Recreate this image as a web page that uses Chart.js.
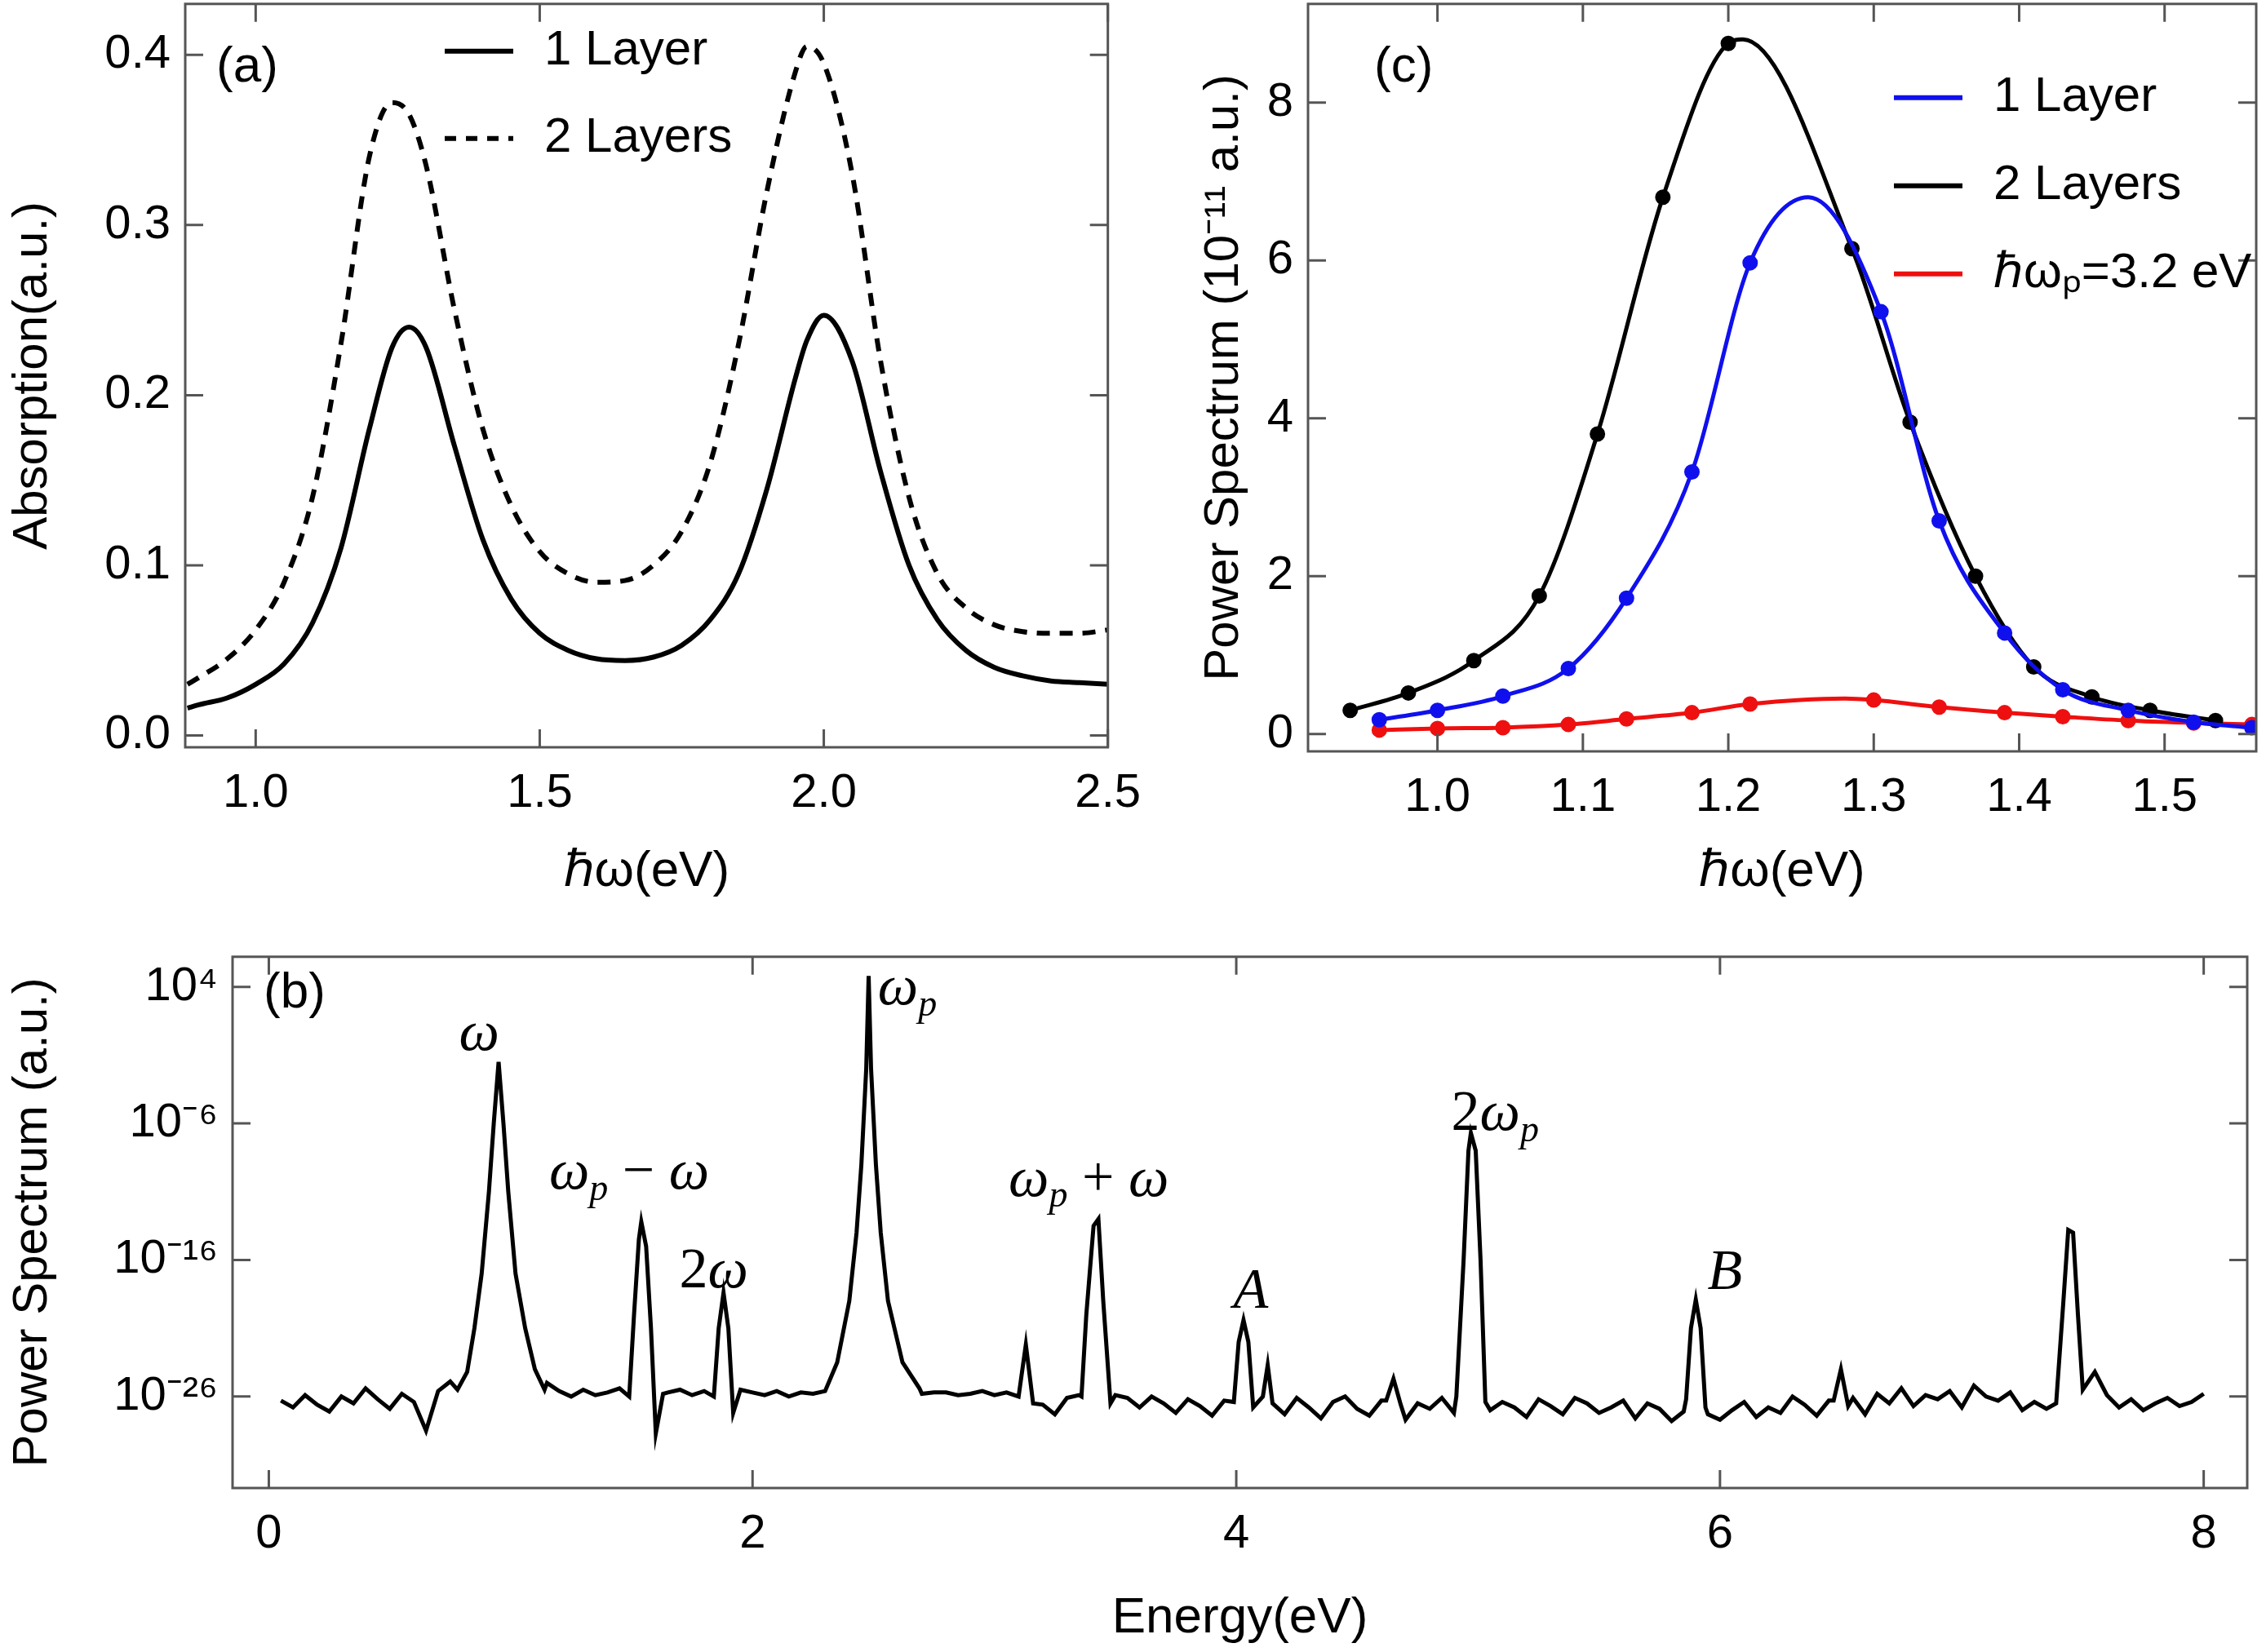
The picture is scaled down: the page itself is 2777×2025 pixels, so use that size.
<!DOCTYPE html>
<html><head><meta charset="utf-8">
<script src="https://cdn.jsdelivr.net/npm/chart.js@4/dist/chart.umd.min.js"></script>
<style>
body{margin:0;background:#fff;width:2777px;height:2025px;position:relative;overflow:hidden}
.box{position:absolute}
</style></head><body>
<div class="box" style="left:0;top:-48px;width:1420px;height:1158px"><canvas id="ca"></canvas></div>
<div class="box" style="left:1460px;top:-48px;width:1317px;height:1158px"><canvas id="cc"></canvas></div>
<div class="box" style="left:0;top:1120px;width:2777px;height:905px"><canvas id="cb"></canvas></div>
<script>
// (a) absorption
var absEnergy = [0.88,0.9,0.95,1.0,1.05,1.1,1.15,1.2,1.24,1.27,1.3,1.35,1.4,1.45,1.5,1.55,1.6,1.65,1.7,1.75,1.8,1.85,1.9,1.95,1.97,2.0,2.05,2.1,2.15,2.2,2.25,2.3,2.35,2.4,2.45,2.5];
var abs1Layer = [0.016,0.018,0.022,0.03,0.042,0.066,0.11,0.18,0.228,0.24,0.228,0.17,0.115,0.08,0.06,0.05,0.045,0.044,0.046,0.053,0.068,0.095,0.145,0.21,0.232,0.247,0.22,0.155,0.1,0.068,0.05,0.04,0.035,0.032,0.031,0.03];
var abs2Layers = [0.03,0.034,0.045,0.062,0.09,0.14,0.23,0.34,0.372,0.365,0.335,0.25,0.18,0.135,0.108,0.095,0.09,0.091,0.1,0.12,0.16,0.23,0.32,0.39,0.405,0.395,0.33,0.22,0.14,0.095,0.075,0.065,0.061,0.06,0.06,0.062];

// (c) power spectrum, 10^-11 a.u.
var pw2Energy = [0.94,0.98,1.025,1.07,1.11,1.155,1.2,1.21,1.285,1.325,1.37,1.41,1.45,1.49,1.535];
var pw2Value  = [0.3,0.52,0.93,1.75,3.8,6.8,8.75,8.8,6.15,3.95,2.0,0.85,0.47,0.3,0.17];
var pw2Marked = [1,1,1,1,1,1,1,0,1,1,1,1,1,1,1];
var pw1Energy = [0.96,1.0,1.045,1.09,1.13,1.175,1.215,1.255,1.305,1.345,1.39,1.43,1.475,1.52,1.56];
var pw1Value  = [0.18,0.3,0.48,0.83,1.72,3.32,5.97,6.8,5.35,2.7,1.28,0.56,0.3,0.15,0.08];
var pw1Marked = [1,1,1,1,1,1,1,0,1,1,1,1,1,1,1];
var pwREnergy = [0.96,1.0,1.045,1.09,1.13,1.175,1.215,1.28,1.3,1.345,1.39,1.43,1.475,1.52,1.56];
var pwRValue  = [0.05,0.07,0.08,0.12,0.19,0.27,0.38,0.45,0.43,0.34,0.27,0.22,0.17,0.14,0.12];
var pwRMarked = [1,1,1,1,1,1,1,0,1,1,1,1,1,1,1];

// (b) log10 of spectrum: noisy floor sampled every 0.05 eV from 0.05 eV, plus peaks
var floorExp = [
-26.3,-26.8,-25.9,-26.6,-27.1,-26.0,-26.5,-25.4,-26.2,-26.9,-25.8,-26.4,-28.5,-25.6,-24.9,-24.2,-25,-25,-25,-25,
-25,-25,-25,-25.6,-26.0,-25.5,-25.9,-25.7,-25.4,-25.8,-25.6,-26.1,-25.7,-25.5,-25.9,-25.6,-25.7,-25.8,-25.5,-25.7,
-25.9,-25.6,-26.0,-25.7,-25.8,-25.6,-25.9,-25.7,-25.5,-25.8,-25.7,-25.9,-25.6,-25.8,-25.7,-25.7,-25.9,-25.8,-25.6,-25.9,
-25.7,-26.3,-25.8,-26.6,-27.3,-26.1,-25.9,-26.2,-26.4,-25.9,-26.1,-26.8,-26.0,-26.5,-27.2,-26.2,-26.7,-27.4,-26.3,-26.6,
-27.5,-26.2,-26.9,-27.3,-26.1,-26.8,-27.6,-26.4,-26.0,-26.9,-27.4,-26.3,-26.8,-27.7,-26.5,-26.9,-26.1,-27.2,-26.6,-26.3,
-27.0,-26.4,-26.8,-27.5,-26.2,-26.7,-27.3,-26.1,-26.5,-27.2,-26.8,-26.3,-27.6,-26.5,-26.9,-27.8,-27.1,-26.6,-27.3,-27.7,
-27.0,-26.4,-27.5,-26.8,-27.2,-26.0,-26.6,-27.4,-26.3,-26.9,-26.1,-27.3,-25.8,-26.5,-25.4,-26.7,-25.9,-26.2,-25.6,-26.8,
-25.2,-26.0,-26.3,-25.7,-27.0,-26.4,-26.9,-27.6,-26.5,-27.1,-26.3,-27.4,-26.8,-26.2,-27.0,-26.5,-26.1,-26.7,-26.4,-25.8];
var peakOmega   = [[0.78,-25.5],[0.82,-24.2],[0.85,-21],[0.88,-17],[0.91,-11],[0.93,-6],[0.95,-1.5],[0.97,-6],[0.99,-11],[1.02,-17],[1.06,-21],[1.1,-24],[1.14,-25.5]];
var peakWpMinus = [[1.49,-26],[1.51,-20],[1.53,-14.5],[1.54,-13.2],[1.56,-15],[1.58,-21],[1.6,-28.7],[1.63,-25.8]];
var peak2Omega  = [[1.84,-26],[1.86,-21],[1.88,-18.4],[1.9,-21],[1.92,-27.2]];
var peakWp      = [[2.3,-25.6],[2.35,-23.5],[2.4,-19],[2.43,-14],[2.45,-9],[2.47,-2],[2.48,4.8],[2.49,-2],[2.51,-9],[2.53,-14],[2.56,-19],[2.62,-23.5],[2.69,-25.4]];
var peakSmall1  = [[3.1,-26],[3.13,-22.2],[3.16,-26.5]];
var peakWpPlus  = [[3.36,-26],[3.38,-20],[3.41,-13.5],[3.43,-13],[3.45,-19],[3.48,-26.5]];
var peakA       = [[3.99,-26.4],[4.01,-22],[4.03,-20.4],[4.05,-22],[4.07,-26.8],[4.11,-26],[4.13,-23.7],[4.15,-26.5]];
var peakSmall2  = [[4.62,-26.3],[4.65,-24.7],[4.68,-26.6]];
var peak2Wp     = [[4.91,-26],[4.94,-16],[4.96,-8],[4.97,-6.7],[4.99,-8],[5.01,-16],[5.03,-26.4]];
var peakB       = [[5.86,-26.2],[5.88,-21],[5.9,-18.9],[5.92,-21],[5.94,-26.8]];
var peakSmall3  = [[6.47,-26.3],[6.5,-24],[6.53,-26.7]];
var peakLast    = [[7.39,-26.5],[7.42,-19],[7.44,-13.8],[7.46,-14],[7.48,-20],[7.5,-25.5],[7.55,-24.2],[7.6,-25.9]];
var logTicks = [-26,-16,-6,4];

var FONT = '"Liberation Sans", Arial, sans-serif';
var SERIF = '"Liberation Serif", "DejaVu Serif", serif';
var FRAME = '#555';

function framePlugin(id, opts) {
  return {
    id: id,
    afterDraw: function(chart) {
      var c = chart.ctx, a = chart.chartArea;
      c.save();
      c.strokeStyle = FRAME; c.lineWidth = 3;
      c.strokeRect(a.left, a.top, a.right - a.left, a.bottom - a.top);
      // inward ticks
      var xs = chart.scales.x, ys = chart.scales.y;
      xs.ticks.forEach(function(t) {
        var p = xs.getPixelForValue(t.value);
        c.beginPath(); c.moveTo(p, a.bottom); c.lineTo(p, a.bottom - 22);
        c.moveTo(p, a.top); c.lineTo(p, a.top + 22); c.stroke();
      });
      ys.ticks.forEach(function(t) {
        var p = ys.getPixelForValue(t.value);
        c.beginPath(); c.moveTo(a.left, p); c.lineTo(a.left + 22, p);
        c.moveTo(a.right, p); c.lineTo(a.right - 22, p); c.stroke();
      });
      c.fillStyle = '#000'; c.font = '62px ' + FONT; c.textBaseline = 'middle'; c.textAlign = 'left';
      c.fillText(opts.label, a.left + opts.lx, a.top + opts.ly);
      if (opts.legend) {
        opts.legend.forEach(function(it, i) {
          var y = a.top + opts.legend.y0 + i * opts.legend.dy;
          var x = a.left + opts.legend.x0;
          c.strokeStyle = it.color; c.lineWidth = 6; c.setLineDash(it.dash || []);
          c.beginPath(); c.moveTo(x, y); c.lineTo(x + 84, y); c.stroke();
          c.setLineDash([]);
          c.fillStyle = '#000'; c.font = '60px ' + FONT;
          c.fillText(it.text, x + 122, y);
        });
      }
      c.restore();
    }
  };
}

function pts(xs, ys) { return xs.map(function(x, i) { return {x: x, y: ys[i]}; }); }

function axes(xmin, xmax, xt, ymin, ymax, yt, yw, xh, xtitle, ytitle, yType, yCb, xCb) {
  return {
    x: {type: 'linear', min: xmin, max: xmax,
        afterBuildTicks: function(s) { s.ticks = xt.map(function(v) { return {value: v}; }); },
        afterFit: function(s) { s.height = xh; },
        grid: {display: false, drawTicks: false}, border: {display: false},
        ticks: {color: '#000', font: {size: 58, family: FONT}, padding: 22, maxRotation: 0, callback: xCb},
        title: {display: true, text: xtitle, color: '#000', font: {size: 62, family: FONT}, padding: {top: 14}}},
    y: {type: yType || 'linear', min: ymin, max: ymax,
        afterBuildTicks: function(s) { s.ticks = yt.map(function(v) { return {value: v}; }); },
        afterFit: function(s) { s.width = yw; },
        grid: {display: false, drawTicks: false}, border: {display: false},
        ticks: {color: '#000', font: {size: 58, family: FONT}, padding: 18, callback: yCb},
        title: {display: true, text: ytitle, color: '#000', font: {size: 60, family: FONT}, padding: {bottom: 4}}}
  };
}

var fx1 = function(v) { return v.toFixed(1); };

// (a)
new Chart(document.getElementById('ca'), {
  type: 'line',
  data: {datasets: [
    {data: pts(absEnergy, abs1Layer), borderColor: '#000', borderWidth: 6, pointRadius: 0, cubicInterpolationMode: 'monotone'},
    {data: pts(absEnergy, abs2Layers), borderColor: '#000', borderWidth: 6, borderDash: [16, 12], pointRadius: 0, cubicInterpolationMode: 'monotone'}
  ]},
  options: {responsive: true, maintainAspectRatio: false, animation: false,
    layout: {padding: {right: 54, top: 0}},
    plugins: {legend: {display: false}, tooltip: {enabled: false}},
    scales: axes(0.876, 2.5, [1.0, 1.5, 2.0, 2.5], -0.007, 0.43, [0, 0.1, 0.2, 0.3, 0.4], 227, 194,
      'ℏω(eV)', 'Absorption(a.u.)', 'linear', fx1, fx1)},
  plugins: [framePlugin('fa', {label: '(a)', lx: 38, ly: 78,
    legend: Object.assign([{text: '1 Layer', color: '#000'}, {text: '2 Layers', color: '#000', dash: [14, 12]}], {x0: 318, y0: 58, dy: 107})})]
});

// (c)
function markRadius(m) { return m.map(function(v) { return v ? 7 : 0; }); }
new Chart(document.getElementById('cc'), {
  type: 'line',
  data: {datasets: [
    {data: pts(pw1Energy, pw1Value), borderColor: '#1010ee', backgroundColor: '#1010ee', borderWidth: 5, pointRadius: markRadius(pw1Marked), cubicInterpolationMode: 'monotone'},
    {data: pts(pw2Energy, pw2Value), borderColor: '#000', backgroundColor: '#000', borderWidth: 5, pointRadius: markRadius(pw2Marked), cubicInterpolationMode: 'monotone'},
    {data: pts(pwREnergy, pwRValue), borderColor: '#ee1010', backgroundColor: '#ee1010', borderWidth: 5, pointRadius: markRadius(pwRMarked), cubicInterpolationMode: 'monotone'}
  ]},
  options: {responsive: true, maintainAspectRatio: false, animation: false,
    layout: {padding: {right: 11, top: 0}},
    plugins: {legend: {display: false}, tooltip: {enabled: false}},
    scales: axes(0.911, 1.563, [1.0, 1.1, 1.2, 1.3, 1.4, 1.5], -0.22, 9.25, [0, 2, 4, 6, 8], 143, 189,
      'ℏω(eV)', 'Power Spectrum (10⁻¹¹ a.u.)', 'linear', function(v) { return v; }, fx1)},
  plugins: [framePlugin('fc', {label: '(c)', lx: 81, ly: 78,
    legend: Object.assign([{text: '1 Layer', color: '#1010ee'}, {text: '2 Layers', color: '#000'}, {text: 'ℏωₚ=3.2 eV', color: '#ee1010'}], {x0: 718, y0: 115, dy: 108})})]
});

// (b)
var peaks = [peakOmega, peakWpMinus, peak2Omega, peakWp, peakSmall1, peakWpPlus, peakA, peakSmall2, peak2Wp, peakB, peakSmall3, peakLast];
var spec = [];
floorExp.forEach(function(e, i) {
  var x = +(0.05 * (i + 1)).toFixed(2);
  var inside = peaks.some(function(p) { return x >= p[0][0] && x <= p[p.length - 1][0]; });
  if (!inside) spec.push({x: x, y: Math.pow(10, e)});
});
peaks.forEach(function(p) { p.forEach(function(q) { spec.push({x: q[0], y: Math.pow(10, q[1])}); }); });
spec.sort(function(a, b) { return a.x - b.x; });

var supMap = {'-': '⁻', '0': '⁰', '1': '¹', '2': '²', '3': '³', '4': '⁴', '5': '⁵', '6': '⁶', '7': '⁷', '8': '⁸', '9': '⁹'};
function logLabel(v) {
  var e = Math.round(Math.log10(v));
  return '10' + String(e).split('').map(function(ch) { return supMap[ch]; }).join('');
}

var peakLabels = [
  {x: 0.87, e: 0.5, parts: [['ω', 'i']]},
  {x: 1.49, e: -9.7, parts: [['ω', 'i'], ['p', 's'], [' − ', 'n'], ['ω', 'i']]},
  {x: 1.84, e: -16.9, parts: [['2', 'n'], ['ω', 'i']]},
  {x: 2.64, e: 3.8, parts: [['ω', 'i'], ['p', 's']]},
  {x: 3.39, e: -10.2, parts: [['ω', 'i'], ['p', 's'], [' + ', 'n'], ['ω', 'i']]},
  {x: 4.06, e: -18.4, parts: [['A', 'i']]},
  {x: 5.07, e: -5.4, parts: [['2', 'n'], ['ω', 'i'], ['p', 's']]},
  {x: 6.02, e: -17, parts: [['B', 'i']]}
];
var labelPlugin = {
  id: 'peaklabels',
  afterDraw: function(chart) {
    var c = chart.ctx, xs = chart.scales.x, ys = chart.scales.y;
    c.save(); c.fillStyle = '#000'; c.textBaseline = 'middle'; c.textAlign = 'left';
    function fontFor(k) { return k === 's' ? 'italic 46px ' + SERIF : (k === 'i' ? 'italic 70px ' + SERIF : '70px ' + SERIF); }
    peakLabels.forEach(function(l) {
      var w = 0;
      l.parts.forEach(function(p) { c.font = fontFor(p[1]); w += c.measureText(p[0]).width; });
      var x = xs.getPixelForValue(l.x) - w / 2, y = ys.getPixelForValue(Math.pow(10, l.e));
      l.parts.forEach(function(p) {
        c.font = fontFor(p[1]);
        c.fillText(p[0], x, p[1] === 's' ? y + 20 : y);
        x += c.measureText(p[0]).width;
      });
    });
    c.restore();
  }
};

new Chart(document.getElementById('cb'), {
  type: 'line',
  data: {datasets: [{data: spec, borderColor: '#000', borderWidth: 5, pointRadius: 0, tension: 0}]},
  options: {responsive: true, maintainAspectRatio: false, animation: false,
    layout: {padding: {right: 23, top: 13}},
    plugins: {legend: {display: false}, tooltip: {enabled: false}},
    scales: axes(-0.15, 8.18, [0, 2, 4, 6, 8], Math.pow(10, -32.7), Math.pow(10, 6.2), logTicks.map(function(e) { return Math.pow(10, e); }),
      285, 201, 'Energy(eV)', 'Power Spectrum (a.u.)', 'logarithmic', logLabel, function(v) { return v; })},
  plugins: [framePlugin('fb', {label: '(b)', lx: 38, ly: 45}), labelPlugin]
});
</script>
</body></html>
